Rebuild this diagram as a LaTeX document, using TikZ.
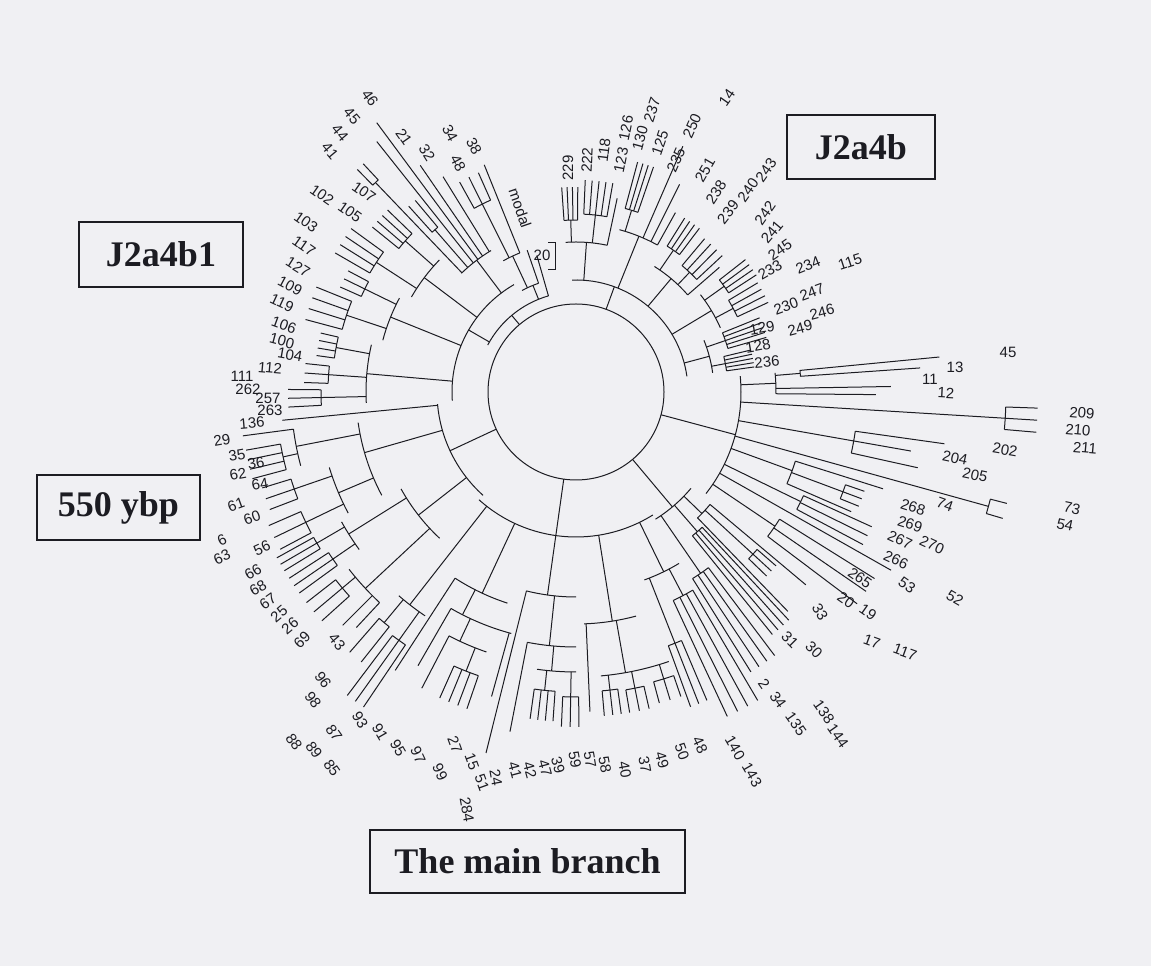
\documentclass[tikz,border=0pt]{standalone}
\usepackage{fontspec}
\setmainfont{Liberation Serif}
\newfontfamily\labfont{Liberation Sans}
\usetikzlibrary{calc}

\definecolor{paper}{RGB}{240,240,243}
\definecolor{ink}{RGB}{28,28,34}

% radial branch, arc, fan of leaves, sub-clade
\newcommand{\tbr}[3]{\draw[edg] ($(O)+(#1:#2)$) -- ($(O)+(#1:#3)$);}
\newcommand{\tarc}[3]{\draw[edg] ($(O)+(#1:#3)$) arc[start angle=#1, end angle=#2, radius=#3];}
\newcommand{\tfan}[5]{%
  \tarc{#1}{#2}{#3}%
  \foreach \k in {0,...,#5} {%
    \pgfmathsetmacro{\fa}{(#1)+((#2)-(#1))*\k/#5}%
    \tbr{\fa}{#3}{#4}}}
\newcommand{\tsub}[6]{%
  \pgfmathsetmacro{\ma}{((#1)+(#2))/2}%
  \tbr{\ma}{#3}{#4}%
  \tfan{#1}{#2}{#4}{#5}{#6}}

\begin{document}
\begin{tikzpicture}[x=1pt, y=1pt]

\tikzset{
  edg/.style={ink, line width=1pt},
  lab/.style={font=\labfont\fontsize{15}{15}\selectfont, inner sep=0pt, text=ink},
  tbox/.style={draw=ink, line width=1.1pt, inner sep=0pt,
    font=\fontsize{36}{36}\selectfont\bfseries, text=ink},
}

\fill[paper] (0,0) rectangle (1151,966);
\useasboundingbox (0,0) rectangle (1151,966);

\coordinate (O) at (576,574);

% root
\draw[edg] (O) circle[radius=88];

% top-left inner arc, modal and 20
\tbr{130}{88}{100}
\tarc{106}{152}{100}
\tbr{106}{100}{142}
\draw[edg] (548,723) -- (555,723) -- (555,696) -- (548,696);
\tbr{112}{100}{115} \tarc{109}{118}{115}
\tbr{109}{115}{150}
\tbr{115}{115}{150} \tarc{112}{119}{150}
\tbr{112}{150}{245}
\tsub{114}{119}{150}{210}{240}{2}

% J2a4b1
\tbr{150}{100}{124} \tarc{120}{184}{124}
\tbr{127}{124}{165} \tarc{121}{134}{165}
\tbr{121.7}{165}{253} \tbr{124.5}{165}{275}
\tbr{126.5}{165}{335} \tbr{128.5}{165}{320}
\tsub{130}{132}{165}{215}{250}{1}
\tsub{133}{134.5}{165}{290}{312}{1}
\tbr{143}{124}{190} \tarc{136}{150}{190}
\tsub{136}{141}{190}{228}{262}{3}
\tsub{144}{150}{190}{238}{278}{3}
\tbr{158}{124}{200} \tarc{152}{165}{200}
\tsub{152}{156}{200}{235}{258}{2}
\tsub{158}{165}{200}{242}{280}{3}
\tbr{175}{124}{210} \tarc{167}{183}{210}
\tsub{167}{172}{210}{244}{262}{3}
\tsub{174}{178}{210}{248}{272}{2}
\tsub{179.5}{183}{210}{255}{288}{2}

% 550 ybp
\tbr{205}{88}{139} \tarc{185}{228}{139}
\tbr{185.5}{139}{295}
\tbr{196}{139}{220} \tarc{188}{208}{220}
\tbr{191}{220}{285} \tarc{187.5}{195}{285}
\tbr{187.5}{285}{336}
\tsub{190}{195}{285}{300}{335}{3}
\tbr{203}{220}{258} \tarc{197}{208}{258}
\tsub{197}{201}{258}{298}{328}{2}
\tsub{203.5}{208}{258}{300}{335}{2}
\tbr{218}{139}{200} \tarc{209}{227}{200}
\tbr{212}{200}{268} \tarc{209}{216}{268}
\tsub{209}{211.5}{268}{300}{342}{2}
\tsub{213}{216}{268}{295}{342}{2}
\tbr{223}{200}{288} \tarc{218}{227}{288}
\tsub{218}{222}{288}{305}{342}{2}
\tbr{225}{288}{330} \tbr{227}{288}{322}

% main branch
\tbr{262}{88}{145} \tarc{228}{302}{145}
\tbr{232}{145}{270} \tarc{229}{236}{270}
\tsub{229}{231.5}{270}{300}{345}{1}
\tsub{233}{236}{270}{305}{380}{2}
\tbr{245}{145}{222} \tarc{237}{252}{222}
\tbr{237}{222}{332}
\tbr{243}{222}{250} \tarc{240}{255}{250}
\tbr{240}{250}{316}
\tbr{245}{250}{275} \tarc{242.5}{251}{275}
\tbr{242.5}{275}{334}
\tsub{246}{251}{275}{300}{335}{3}
\tbr{254.5}{250}{316}
\tbr{262}{145}{205} \tarc{256}{270}{205}
\tbr{256}{205}{372}
\tbr{264}{205}{255} \tarc{259}{270}{255}
\tbr{259}{255}{346}
\tbr{265}{255}{280} \tarc{262}{270}{280}
\tsub{262}{266}{280}{300}{330}{3}
\tsub{267.5}{270.5}{280}{305}{335}{2}
\tbr{279}{145}{232} \tarc{272}{285}{232}
\tbr{272.5}{232}{320}
\tbr{280}{232}{285} \tarc{275}{289}{285}
\tsub{275}{278}{285}{300}{325}{2}
\tsub{279.5}{283}{285}{302}{325}{2}
\tsub{285}{289}{285}{300}{322}{2}
\tbr{296}{145}{200} \tarc{290}{301}{200}
\tsub{290}{293}{200}{270}{335}{2}
\tsub{295}{300.5}{200}{230}{358}{3}

% lower right
\tbr{310}{88}{150} \tarc{302}{320}{150}
\tsub{302}{307}{150}{220}{330}{3}
\tsub{309}{313}{150}{185}{312}{3}
\tbr{316}{150}{175} \tarc{314}{320}{175}
\tbr{314}{175}{305}
\tsub{316}{319}{175}{240}{265}{2}
\tbr{320}{175}{300}

% right clade
\tbr{-15}{88}{165} \tarc{-38}{5.5}{165}
\tbr{2.5}{165}{200} \tarc{-0.5}{5.5}{200}
\tbr{4.75}{200}{225} \tarc{4}{5.5}{225}
\tbr{5.5}{225}{365} \tbr{4}{225}{345}
\tbr{1}{200}{315} \tbr{-0.5}{200}{300}
\tbr{-3.5}{165}{430} \tfan{-2}{-5}{430}{462}{2}
\tbr{-10}{165}{282} \tarc{-8}{-12.5}{282}
\tbr{-8}{282}{372} \tbr{-10}{282}{340} \tbr{-12.5}{282}{350}
\tbr{-15.5}{165}{428} \tfan{-14.5}{-16.5}{428}{445}{1}
\tbr{-20}{165}{230} \tarc{-17.5}{-23.5}{230}
\tbr{-17.5}{230}{322}
\tsub{-19}{-22}{230}{285}{305}{2}
\tbr{-23.5}{230}{300}
\tbr{-26}{165}{250} \tfan{-24.5}{-28}{250}{325}{2}
\tbr{-29.5}{165}{362}
\tbr{-34}{165}{240} \tfan{-32}{-37}{240}{352}{2}

% J2a4b
\tbr{70}{88}{112} \tarc{8}{92}{112}
\tbr{86}{112}{150} \tarc{78}{94}{150}
\tsub{89.5}{94}{150}{172}{205}{3}
\tsub{80}{87.5}{150}{178}{212}{4}
\tbr{78}{150}{198}
\tbr{68}{112}{168} \tarc{61}{75}{168}
\tsub{71}{75}{168}{190}{238}{3}
\tbr{66.5}{168}{268} \tbr{63.5}{168}{232} \tbr{61}{168}{205}
\tbr{50}{112}{148} \tarc{41}{58}{148}
\tsub{53}{58}{148}{172}{205}{3}
\tsub{43}{50}{148}{165}{200}{3}
\tbr{41}{148}{190}
\tbr{31}{112}{158} \tarc{24}{38}{158}
\tsub{33}{38}{158}{182}{215}{3}
\tsub{25}{31}{158}{178}{212}{3}
\tbr{15}{112}{138} \tarc{8}{22}{138}
\tsub{16}{22}{138}{158}{198}{4}
\tsub{8}{13.5}{138}{152}{180}{4}

% leaf labels (text/x/y/rotation, y from the top)
\foreach \t/\x/\y/\r [count=\i] in {
  46/370/98/-55, 45/352/116/-50, 44/340/133/-50, 41/330/151/-50,
  21/404/137/-55, 32/427/153/-58, 34/450/133/-62, 38/474/146/-62,
  48/458/163/-62, modal/520/208/-71, 20/542/255/0,
  107/364/192/-35, 105/350/212/-35, 102/322/195/-35, 103/306/222/-35,
  117/304/246/-35, 127/298/267/-32, 109/290/286/-28, 119/282/303/-25,
  106/284/325/-20, 100/282/341/-15, 104/290/355/-10, 112/270/368/-5,
  111/242/376/0, 262/248/389/0, 257/268/398/0, 263/270/410/0, 136/252/423/5,
  29/222/440/10, 35/237/455/10, 36/256/463/10, 62/238/474/10, 64/260/484/10,
  61/236/505/20, 60/252/518/20, 6/222/540/25, 63/222/557/25, 56/262/548/25,
  66/253/572/30, 68/258/588/30, 67/268/601/35, 25/279/614/40, 26/290/626/40,
  69/302/640/45, 43/337/642/-50,
  96/323/680/-55, 98/313/700/-55, 88/294/742/-55, 89/314/750/-55,
  85/332/768/-55, 87/334/733/-55, 93/360/720/-60, 91/380/732/-60,
  95/398/748/-60, 97/418/755/-65, 99/440/772/-65, 27/455/745/-70,
  15/472/762/-70, 51/482/783/-70, 284/467/810/-80, 24/496/778/-80,
  41/515/770/-75, 42/530/770/-75, 47/545/768/-75, 39/558/765/-75,
  59/575/760/-80, 57/590/760/-80, 58/605/765/-80, 40/625/770/-80,
  37/645/765/-80, 49/662/760/-75, 50/682/752/-70, 48/700/745/-65,
  140/735/748/-60, 143/752/775/-60, 2/764/684/-55, 34/778/700/-55,
  135/796/724/-55, 138/824/712/-55, 144/838/736/-55,
  33/820/612/-60, 31/790/640/-45, 30/814/650/-45, 17/872/642/-20, 117/905/652/-20,
  265/860/578/-35, 20/846/600/-35, 19/868/612/-35, 53/907/585/-35, 52/955/598/-30,
  270/932/545/-25, 267/900/540/-25, 266/896/560/-25,
  74/945/505/-20, 268/913/507/-18, 269/910/524/-18,
  73/1072/508/-12, 54/1065/525/-12,
  204/955/458/-12, 205/975/475/-12, 202/1005/450/-10,
  209/1082/413/-5, 210/1078/430/-5, 211/1085/448/-5,
  13/955/367/0, 45/1008/352/0, 11/930/379/0, 12/946/393/-3,
  236/767/362/5, 128/758/346/10, 129/762/328/10, 249/800/328/15,
  246/822/312/15, 230/786/306/20, 247/812/292/20,
  234/808/265/22, 115/850/262/18, 233/770/270/30, 245/780/250/35,
  241/772/232/50, 242/765/213/55, 240/748/190/55, 243/766/170/55,
  229/568/168/90, 222/587/160/87, 118/604/150/83, 123/621/160/79,
  126/626/128/79, 130/640/138/75, 125/660/143/71, 237/652/110/72,
  235/676/160/66, 250/692/126/66, 251/705/170/60, 238/716/192/57,
  239/728/212/52, 14/727/98/55}
  \node[lab, rotate=\r] (leaf\i) at (\x,966-\y) {\t};

% clade boxes
\node[tbox, minimum width=148pt, minimum height=64pt] (j2a4b) at (861,819) {J2a4b};
\node[tbox, minimum width=164pt, minimum height=65pt] (j2a4bone) at (161,711.5) {J2a4b1};
\node[tbox, minimum width=163pt, minimum height=65pt] (ybp) at (118.5,458.5) {550 ybp};
\node[tbox, minimum width=315pt, minimum height=63pt] (mainbr) at (527.5,104.5) {The main branch};

\end{tikzpicture}
\end{document}
